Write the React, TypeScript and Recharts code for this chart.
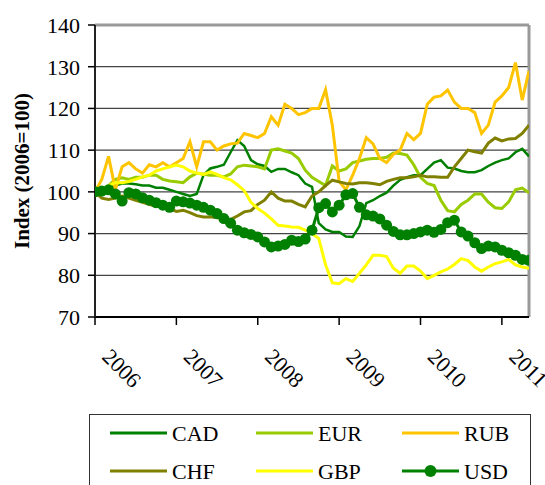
import React from 'react';
import { LineChart, Line, XAxis, YAxis, CartesianGrid, ReferenceLine } from 'recharts';

const START_YEAR = 2006;
const LAST_MONTH = 64;
const yTicks = [70, 80, 90, 100, 110, 120, 130, 140];
const xTicks = [2006, 2007, 2008, 2009, 2010, 2011];

const CAD = [100, 100.5, 101, 101.5, 102, 102, 101.8, 101.5, 101.5, 101,
  101, 100.5, 100, 99.5, 99, 99.5, 104, 105.6, 106, 106.5,
  109.5, 112.4, 111, 107.6, 106.6, 106.2, 104.8, 105.5, 105.5, 104.7,
  104, 102, 101.2, 92.5, 91, 90.4, 90.4, 89.3, 89.2, 91.8,
  97.3, 98, 99, 99.8, 101.5, 102.9, 103.5, 104, 104, 105.5,
  107, 107.6, 105.8, 105.6, 105, 104.7, 104.7, 105.2, 106.2, 107,
  107.6, 108, 109.5, 110.3, 108.5];

const EUR = [100, 100, 101.5, 103, 103.4, 103, 103.5, 103.5, 104, 104,
  103, 102.6, 102.4, 102.2, 103.6, 104.5, 104.2, 104, 104, 103.6,
  104.3, 106, 106.4, 106.2, 106, 105.5, 110, 110.3, 109.8, 109.3,
  108, 105.2, 103.5, 102.5, 101.5, 106.2, 105, 105.5, 107, 107.4,
  107.8, 108, 108, 108.3, 109.3, 109.2, 108.8, 106.5, 103.5, 102,
  101.5, 98, 95.5, 95.2, 97, 98, 99.5, 99.5, 97.5, 96.2,
  96, 97.6, 100.5, 100.9, 99.8];

const RUB = [100, 103, 108.5, 100.5, 106, 107, 105.5, 104.5, 106.5, 106,
  107, 106, 107, 108, 112, 106, 112, 112, 110, 111,
  111.5, 111.7, 114, 113.5, 113, 114, 118, 116, 121, 120,
  118.5, 119, 120, 120, 124.5, 116, 102.5, 100.5, 104, 108,
  113, 111.5, 108, 107, 109, 110, 114, 112.5, 114, 121,
  122.7, 123, 124.4, 121.5, 120, 120, 119, 114, 116, 121.5,
  123, 125, 131, 122, 129];

const CHF = [100, 98.5, 98.2, 98.5, 99, 98.5, 98, 97.5, 97, 96.5,
  96.5, 96, 95.3, 95.6, 95, 94.3, 94, 94, 93.8, 93.6,
  93.4, 94.2, 95.2, 95.5, 97, 98, 100, 98.5, 97.8, 97.8,
  97, 96.4, 99, 100, 101.5, 102.8, 102.4, 102, 101.9, 102.2,
  102.2, 102, 101.7, 102.5, 103, 103.4, 103.4, 103.6, 104, 103.6,
  103.6, 103.5, 103.5, 106, 108, 110, 109.6, 109.3, 111.7, 112.9,
  112.2, 112.7, 112.8, 114, 116];

const GBP = [100, 100.5, 101.5, 102.2, 102.2, 102.5, 103, 103.6, 104, 105,
  105.5, 106, 106.4, 106, 105, 104.5, 104.2, 104.8, 104.2, 103.4,
  102.9, 101.7, 100.3, 97.5, 96, 94.9, 93.5, 92, 91.8, 91.6,
  91.5, 90.8, 90, 88.8, 82.5, 78.2, 78, 79.2, 78.5, 80.5,
  82.5, 84.8, 84.8, 84.5, 81.7, 80.5, 82.2, 82.2, 81, 79.2,
  80, 80.8, 81.5, 82.6, 84, 83.5, 82, 81, 82, 82.8,
  83.2, 83.8, 82.5, 82, 81.7];

const USD = [100, 100.2, 100.5, 99.5, 97.8, 99.8, 99.5, 98.6, 98, 97.4,
  96.8, 96.3, 97.8, 97.6, 97.3, 96.8, 96.3, 95.6, 94.8, 93.6,
  92.5, 90.8, 90.2, 89.8, 89.2, 88, 86.8, 87, 87.4, 88.4,
  88.1, 88.7, 90.8, 96.2, 97.2, 95.2, 96.8, 99.3, 99.6, 96.3,
  94.5, 94.2, 93.5, 92, 90.5, 89.7, 89.7, 90, 90.4, 90.8,
  90.3, 91, 92.6, 93.2, 90.4, 89.4, 87.8, 86.4, 87, 86.8,
  86, 85.4, 84.8, 83.8, 83.6];

const series = [
  { key: 'CAD', color: '#008000', width: 2.5, values: CAD, dot: false },
  { key: 'EUR', color: '#99cc00', width: 3, values: EUR, dot: false },
  { key: 'RUB', color: '#ffc400', width: 3, values: RUB, dot: false },
  { key: 'CHF', color: '#808000', width: 3, values: CHF, dot: false },
  { key: 'GBP', color: '#ffff00', width: 3, values: GBP, dot: false },
  { key: 'USD', color: '#008000', width: 3, values: USD, dot: true },
];

const data = USD.map((_, i) => {
  const row: any = { t: START_YEAR + i / 12 };
  series.forEach((s) => { row[s.key] = s.values[i]; });
  return row;
});

const FONT = '"Liberation Serif", "Times New Roman", serif';

const XTick = (props: any) => {
  const { x, y, payload } = props;
  const ax = x + 6;
  const ay = y + 31;
  return (
    <text x={ax} y={ay} transform={`rotate(45, ${ax}, ${ay})`} textAnchor="start"
      fontFamily={FONT} fontSize={22} fill="#000">{payload.value}</text>
  );
};

const YLabel = (props: any) => {
  const vb = props.viewBox || { y: 25, height: 292 };
  const cx = 22;
  const cy = vb.y + vb.height / 2;
  return (
    <text x={cx} y={cy} transform={`rotate(-90, ${cx}, ${cy})`} textAnchor="middle"
      dominantBaseline="central" fontFamily={FONT} fontWeight="bold" fontSize={21} fill="#000">
      Index (2006=100)
    </text>
  );
};

const legendCols = [110, 256, 402];
const legendRows = [433, 471];

export default function App() {
  const xMax = START_YEAR + LAST_MONTH / 12;
  return (
    <div style={{ position: 'absolute', left: 0, top: 0, width: 545, height: 485, overflow: 'hidden', background: '#fff' }}>
      <LineChart width={545} height={485} data={data} margin={{ top: 25, right: 16, bottom: 98, left: 0 }}>
        <CartesianGrid vertical={false} stroke="#444" strokeWidth={1.3} />
        <XAxis dataKey="t" type="number" domain={[START_YEAR, xMax]} ticks={xTicks} interval={0}
          allowDataOverflow height={70} tickSize={8} tick={<XTick />}
          axisLine={{ stroke: '#000', strokeWidth: 2 }} tickLine={{ stroke: '#000', strokeWidth: 1.5 }} />
        <YAxis type="number" domain={[70, 140]} ticks={yTicks} interval={0} width={95} tickSize={7} tickMargin={8}
          tick={{ fontFamily: FONT, fontSize: 22, fill: '#000' }}
          axisLine={{ stroke: '#222', strokeWidth: 2 }} tickLine={{ stroke: '#000', strokeWidth: 1.5 }}
          label={<YLabel />} />
        <ReferenceLine y={140} stroke="#999" strokeWidth={3} />
        <ReferenceLine x={xMax} stroke="#999" strokeWidth={3} />
        {series.map((s) => (
          <Line key={s.key} type="linear" dataKey={s.key} stroke={s.color} strokeWidth={s.width}
            dot={s.dot ? { r: 5.5, fill: s.color, stroke: 'none' } : false}
            activeDot={false} isAnimationActive={false} />
        ))}
      </LineChart>
      <svg width={545} height={485} style={{ position: 'absolute', left: 0, top: 0, pointerEvents: 'none' }}>
        <rect x={89.5} y={414.5} width={441} height={100} fill="none" stroke="#333" strokeWidth={1} />
        {series.map((s, i) => {
          const cx = legendCols[i % 3];
          const cy = legendRows[Math.floor(i / 3)];
          return (
            <g key={s.key}>
              <line x1={cx} x2={cx + 57} y1={cy} y2={cy} stroke={s.color} strokeWidth={3} />
              {s.dot && <circle cx={cx + 28.5} cy={cy} r={6} fill={s.color} />}
              <text x={cx + 62} y={cy + 8} fontFamily={FONT} fontSize={22} fill="#000">{s.key}</text>
            </g>
          );
        })}
      </svg>
    </div>
  );
}
